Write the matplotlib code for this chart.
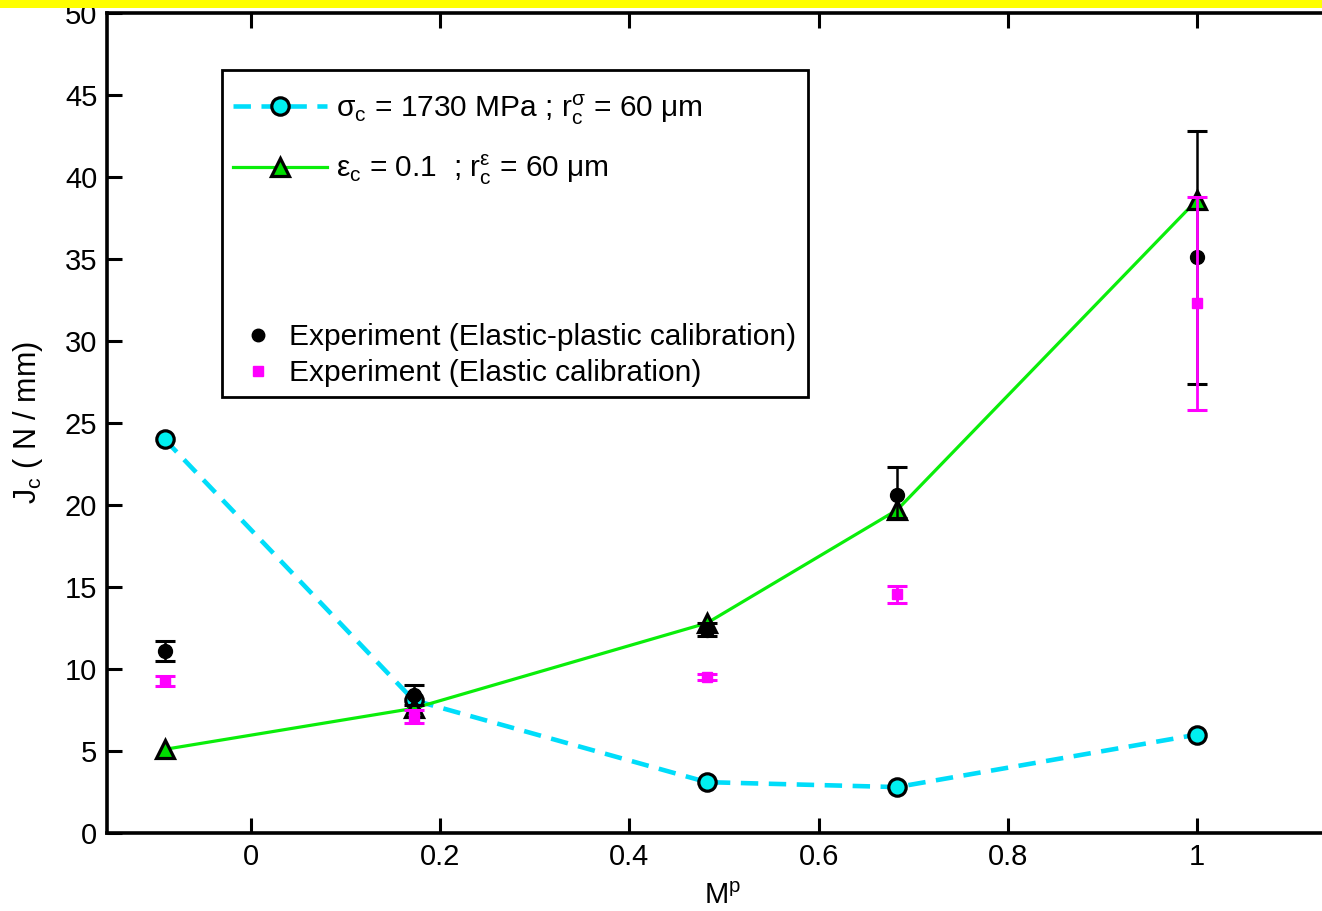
import matplotlib
matplotlib.use("Agg")
import matplotlib.pyplot as plt
from matplotlib.patches import Rectangle
import numpy as np

plt.rcParams['font.family'] = ['Liberation Sans', 'DejaVu Sans']
plt.rcParams['mathtext.fontset'] = 'custom'
plt.rcParams['mathtext.rm'] = 'Liberation Sans'
plt.rcParams['mathtext.it'] = 'Liberation Sans'
plt.rcParams['mathtext.bf'] = 'Liberation Sans:bold'

# Mixity parameter values
mp = [-0.091, 0.172, 0.482, 0.683, 1.0]

# Stress-based criterion prediction
jc_stress = [24.0, 8.1, 3.1, 2.8, 6.0]
# Strain-based criterion prediction
jc_strain = [5.1, 7.6, 12.8, 19.7, 38.6]

# Experiments, elastic-plastic calibration (lower / upper scatter)
jc_exp_ep = [11.1, 8.4, 12.4, 20.6, 35.1]
err_ep_lo = [0.6, 0.6, 0.4, 1.4, 7.7]
err_ep_hi = [0.6, 0.6, 0.4, 1.7, 7.7]
# Experiments, elastic calibration
jc_exp_el = [9.25, 7.1, 9.5, 14.55, 32.3]
err_el = [0.3, 0.4, 0.2, 0.5, 6.5]

label_stress = r'σ$_{c}$ = 1730 MPa ; r$_{c}^{σ}$ = 60 μm'
label_strain = r'ε$_{c}$ = 0.1  ; r$_{c}^{ε}$ = 60 μm'
label_ep = 'Experiment (Elastic-plastic calibration)'
label_el = 'Experiment (Elastic calibration)'

W, H = 1322, 911
fig = plt.figure(figsize=(W / 100, H / 100), dpi=100)
ax_left, ax_top, ax_w, ax_h = 107, 13, 1232, 820
ax = fig.add_axes([ax_left / W, 1 - (ax_top + ax_h) / H, ax_w / W, ax_h / H])

cyan = '#00DDFA'
green = '#0AEE0A'
magenta = '#FF00FF'

l1, = ax.plot(mp, jc_stress, linestyle=(0, (3.8, 2.3)), color=cyan, lw=3.3,
              marker='o', ms=12.5, mfc='#00F0F0', mec='black', mew=2.3, zorder=3)
l2, = ax.plot(mp, jc_strain, linestyle='-', color=green, lw=2.3,
              marker='^', ms=13, mfc='#00DD00', mec='black', mew=2.3, zorder=3)

e1 = ax.errorbar(mp, jc_exp_ep, yerr=[err_ep_lo, err_ep_hi], fmt='o', color='black',
                 ms=10, ecolor='black', elinewidth=1.8, capsize=7.5, capthick=2.2,
                 zorder=4)
e2 = ax.errorbar(mp, jc_exp_el, yerr=err_el, fmt='s', color=magenta, ms=7,
                 ecolor=magenta, elinewidth=2.0, capsize=7.5, capthick=2.2, zorder=5)

ax.set_xlim(-0.152, 1.15)
ax.set_ylim(0, 50)
ax.set_xticks([0, 0.2, 0.4, 0.6, 0.8, 1])
ax.set_xticklabels(['0', '0.2', '0.4', '0.6', '0.8', '1'])
ax.set_yticks(np.arange(0, 51, 5))
ax.tick_params(direction='in', length=11, width=2.2, labelsize=21, pad=7,
               top=True, right=True)
for s in ax.spines.values():
    s.set_linewidth(2.6)

ax.set_xlabel(r'M$^{p}$', fontsize=21, labelpad=8)
ax.set_ylabel(r'J$_{c}$ ( N / mm)', fontsize=22, labelpad=14)

# legend frame and its two groups of entries
ax.add_patch(Rectangle((0.0933, 0.532), 0.476, 0.398, transform=ax.transAxes,
                       fill=True, facecolor='white', edgecolor='black', lw=2.0,
                       zorder=6))
leg1 = ax.legend([l1, l2], [label_stress, label_strain], loc='upper left',
                 bbox_to_anchor=(0.085, 0.929), frameon=False, fontsize=21.5,
                 handlelength=3.15, handletextpad=0.3, labelspacing=0.88,
                 borderpad=0.2)
leg1.set_zorder(7)
ax.add_artist(leg1)
h_ep = plt.Line2D([], [], ls='', marker='o', color='black', ms=9)
h_el = plt.Line2D([], [], ls='', marker='s', color=magenta, ms=7)
leg2 = ax.legend([h_ep, h_el], [label_ep, label_el], loc='upper left',
                 bbox_to_anchor=(0.098, 0.647), frameon=False, fontsize=21.5,
                 handlelength=0.6, handletextpad=0.75, labelspacing=0.26,
                 borderpad=0.2)
leg2.set_zorder(7)

# yellow band along the top edge
fig.add_artist(Rectangle((0, 1 - 8 / H), 1, 8 / H, transform=fig.transFigure,
                         facecolor='#FFFF00', edgecolor='none', zorder=100))

fig.savefig('out.png', dpi=100)
